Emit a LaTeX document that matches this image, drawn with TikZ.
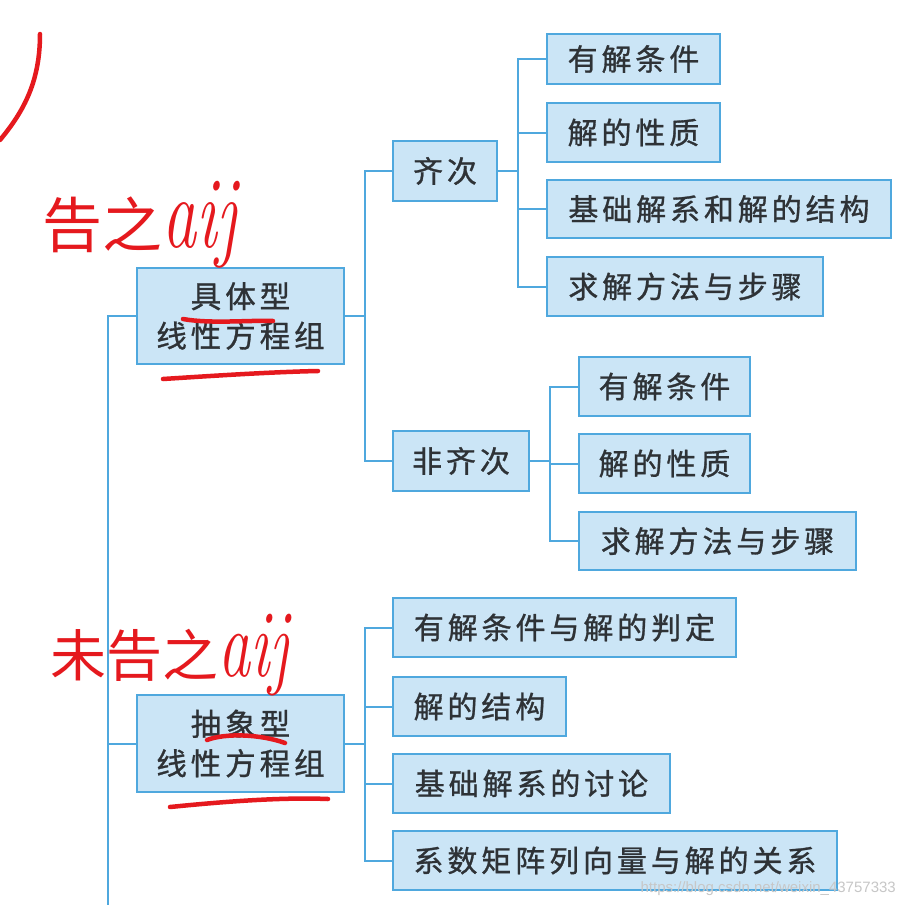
\documentclass[tikz,border=0pt]{standalone}
\usepackage{fontspec}
\usepackage{graphicx}
\newfontfamily\cjk[LetterSpace=13,FakeBold=1]{Noto Sans CJK SC}
\newfontfamily\cjkplain{Noto Sans CJK SC}
\newfontfamily\wmfont{Liberation Sans}
\definecolor{boxline}{HTML}{4FA8DE}
\definecolor{boxfill}{HTML}{CBE5F6}
\definecolor{txt}{HTML}{2E3236}
\definecolor{hand}{HTML}{E5191E}
\begin{document}
\begin{tikzpicture}[x=1pt,y=-1pt,
  box/.style={draw=boxline, fill=boxfill, line width=2pt, inner sep=0pt, text=txt,
              font=\cjk\fontsize{30}{36}\selectfont, align=center},
  bigbox/.style={box, font=\cjk\fontsize{30.5}{39.5}\selectfont},
  conn/.style={draw=boxline, line width=2pt},
  pen/.style={draw=hand, line width=4.5pt, line cap=round},
  handtext/.style={text=hand, inner sep=0pt}]
\fill[white] (0,0) rectangle (905,905);
\useasboundingbox (0,0) rectangle (905,905);

% level 1
\node[bigbox, minimum width=207pt, minimum height=96pt] (ju) at (240.5,316) {具体型\\线性方程组};
\node[bigbox, minimum width=207pt, minimum height=97pt] (cx) at (240.5,743.5) {抽象型\\线性方程组};

% level 2
\node[box, minimum width=104pt, minimum height=60pt] (qc) at (445,171) {齐次};
\node[box, minimum width=136pt, minimum height=60pt] (fqc) at (461,461) {非齐次};

% homogeneous children
\node[box, minimum width=173pt, minimum height=50pt] (a1) at (633.5,59) {有解条件};
\node[box, minimum width=173pt, minimum height=59pt] (a2) at (633.5,132.5) {解的性质};
\node[box, minimum width=344pt, minimum height=58pt] (a3) at (719,209) {基础解系和解的结构};
\node[box, minimum width=276pt, minimum height=59pt] (a4) at (685,286.5) {求解方法与步骤};

% non-homogeneous children
\node[box, minimum width=171pt, minimum height=59pt] (b1) at (664.5,386.5) {有解条件};
\node[box, minimum width=171pt, minimum height=59pt] (b2) at (664.5,463.5) {解的性质};
\node[box, minimum width=277pt, minimum height=58pt] (b3) at (717.5,541) {求解方法与步骤};

% abstract children
\node[box, minimum width=343pt, minimum height=59pt] (c1) at (564.5,627.5) {有解条件与解的判定};
\node[box, minimum width=173pt, minimum height=59pt] (c2) at (479.5,706.5) {解的结构};
\node[box, minimum width=277pt, minimum height=59pt] (c3) at (531.5,783.5) {基础解系的讨论};
\node[box, minimum width=444pt, minimum height=59pt] (c4) at (615,860.5) {系数矩阵列向量与解的关系};

% junctions
\coordinate (m0) at (108,316);
\coordinate (m1) at (108,905);
\coordinate (k1) at (364.5,316);
\coordinate (k2) at (518,171);
\coordinate (k3) at (550,461);
\coordinate (k4) at (364.5,743.5);

% connectors
\draw[conn] (ju.west) -- (m0) -- (m1);
\draw[conn] (cx.west) -- (cx.west -| m0);
\draw[conn] (ju.east) -- (k1);
\draw[conn] (k1) |- (qc.west);
\draw[conn] (k1) |- (fqc.west);
\draw[conn] (qc.east) -- (k2);
\draw[conn] (k2) |- (a1.west);
\draw[conn] (k2) |- (a2.west);
\draw[conn] (k2) |- (a3.west);
\draw[conn] (k2) |- (a4.west);
\draw[conn] (fqc.east) -- (k3);
\draw[conn] (k3) |- (b1.west);
\draw[conn] (k3) |- (b2.west);
\draw[conn] (k3) |- (b3.west);
\draw[conn] (cx.east) -- (k4);
\draw[conn] (k4) |- (c1.west);
\draw[conn] (k4) |- (c2.west);
\draw[conn] (k4) |- (c3.west);
\draw[conn] (k4) |- (c4.west);

% handwritten annotations
\draw[pen] (40,34) .. controls (40,80) and (25,110) .. (0,140);
\draw[pen] (183,319) .. controls (210,324) and (250,320) .. (273,321);
\draw[pen] (163,379) .. controls (210,376) and (270,372) .. (318,371);
\draw[pen] (207,740) .. controls (225,733) and (260,734) .. (285,743);
\draw[pen] (170,807) .. controls (220,802) and (280,797) .. (328,799);

\node[handtext, anchor=west] (h1) at (42,225)
  {{\cjkplain\fontsize{60}{60}\selectfont 告之}\scalebox{1}[1.5]{\fontsize{68}{68}\selectfont\itshape aij}};
\node[handtext, anchor=west] (h2) at (50,655)
  {{\cjkplain\fontsize{56}{56}\selectfont 未告之}\scalebox{1}[1.5]{\fontsize{64}{64}\selectfont\itshape aij}};

% watermark
\node[anchor=south east, inner sep=0pt, text=black!22, font=\wmfont\fontsize{15}{15}\selectfont] (wm) at (896,896) {https://blog.csdn.net/weixin\_43757333};
\end{tikzpicture}
\end{document}
